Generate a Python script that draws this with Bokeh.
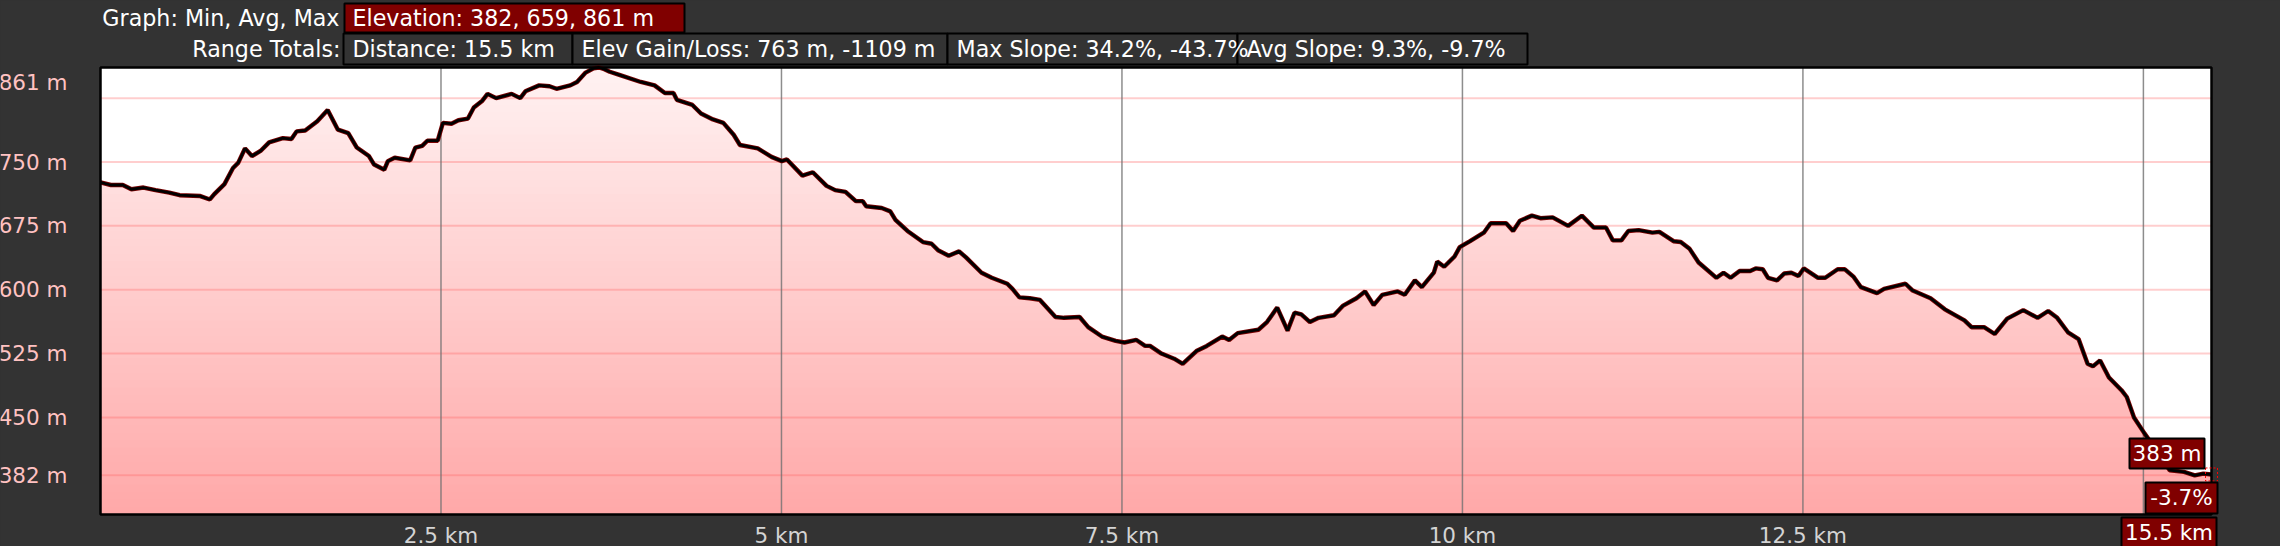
import numpy as np
from bokeh.plotting import figure
from bokeh.models import Range1d, GlobalInlineStyleSheet
from bokeh.core.properties import value
from bokeh.embed import file_html
from bokeh.resources import INLINE

# ---------------- data ----------------
dist_km = [0.000, 0.076, 0.164, 0.227, 0.316, 0.404, 0.505, 0.581, 0.733, 0.803,
           0.834, 0.910, 0.973, 1.011, 1.061, 1.112, 1.175, 1.238, 1.339, 1.402,
           1.440, 1.503, 1.592, 1.668, 1.743, 1.819, 1.882, 1.971, 2.009, 2.084,
           2.110, 2.160, 2.274, 2.312, 2.362, 2.400, 2.476, 2.514, 2.577, 2.628,
           2.698, 2.741, 2.804, 2.842, 2.905, 3.019, 3.082, 3.120, 3.221, 3.297,
           3.348, 3.449, 3.499, 3.562, 3.620, 3.660, 3.700, 3.739, 3.815, 3.967,
           4.068, 4.144, 4.207, 4.232, 4.346, 4.409, 4.497, 4.573, 4.649, 4.695,
           4.826, 4.927, 5.003, 5.040, 5.154, 5.230, 5.331, 5.394, 5.470, 5.546,
           5.597, 5.622, 5.736, 5.799, 5.837, 5.925, 6.039, 6.102, 6.153, 6.228,
           6.304, 6.355, 6.469, 6.544, 6.658, 6.696, 6.747, 6.823, 6.898, 7.012,
           7.075, 7.189, 7.252, 7.353, 7.454, 7.518, 7.606, 7.670, 7.706, 7.790,
           7.883, 7.946, 8.047, 8.123, 8.236, 8.287, 8.350, 8.502, 8.565, 8.640,
           8.716, 8.767, 8.817, 8.880, 8.944, 9.057, 9.121, 9.222, 9.285, 9.348,
           9.411, 9.525, 9.576, 9.651, 9.702, 9.790, 9.815, 9.866, 9.942, 9.980,
           10.056, 10.157, 10.207, 10.321, 10.372, 10.422, 10.510, 10.573, 10.662, 10.776,
           10.877, 10.965, 11.054, 11.104, 11.167, 11.218, 11.294, 11.395, 11.446, 11.550,
           11.603, 11.668, 11.734, 11.865, 11.917, 11.969, 12.035, 12.113, 12.153, 12.205,
           12.244, 12.310, 12.362, 12.415, 12.467, 12.506, 12.611, 12.664, 12.755, 12.808,
           12.873, 12.926, 13.044, 13.096, 13.253, 13.306, 13.437, 13.542, 13.686, 13.738,
           13.830, 13.908, 14.000, 14.118, 14.223, 14.301, 14.367, 14.446, 14.524, 14.590,
           14.629, 14.682, 14.747, 14.839, 14.878, 14.931, 15.009, 15.114, 15.193, 15.298,
           15.377, 15.440, 15.500]
elev_m = [726, 723, 723, 718, 720, 717, 714, 711, 710, 706,
          712, 724, 743, 749, 766, 757, 763, 773, 778, 777,
          786, 787, 798, 811, 788, 784, 767, 757, 747, 741,
          751, 755, 752, 767, 769, 775, 775, 796, 795, 799,
          801, 814, 822, 830, 825, 830, 825, 833, 840, 839,
          836, 840, 844, 855, 860, 861, 859, 856, 852, 844,
          840, 831, 831, 823, 817, 807, 800, 796, 782, 770,
          766, 756, 751, 753, 734, 738, 722, 717, 715, 704,
          704, 698, 696, 692, 682, 669, 656, 654, 646, 640,
          645, 638, 620, 614, 607, 601, 591, 590, 588, 568,
          567, 568, 556, 545, 540, 538, 541, 534, 534, 525,
          519, 513, 528, 534, 545, 541, 549, 553, 562, 579,
          552, 573, 571, 562, 567, 570, 581, 590, 598, 582,
          594, 598, 594, 611, 603, 620, 633, 627, 639, 650,
          657, 667, 678, 678, 669, 681, 687, 684, 685, 675,
          687, 673, 673, 658, 658, 669, 670, 667, 668, 657,
          656, 648, 632, 614, 620, 614, 622, 622, 625, 624,
          614, 611, 619, 620, 616, 625, 614, 614, 624, 624,
          615, 603, 596, 601, 607, 599, 590, 577, 564, 556,
          556, 548, 566, 576, 567, 575, 567, 550, 542, 513,
          510, 517, 497, 482, 474, 450, 431, 407, 388, 386,
          382, 384, 383]

y_tick_values = [382, 450, 525, 600, 675, 750, 861]
y_tick_labels = [f"{v} m" for v in y_tick_values]
y_grid_values = [382, 450, 525, 600, 675, 750, 825]
x_tick_values = [2.5, 5, 7.5, 10, 12.5]
x_tick_labels = ["2.5 km", "5 km", "7.5 km", "10 km", "12.5 km"]
x_grid_values = [2.5, 5, 7.5, 10, 12.5, 15]

elev_stats = (382, 659, 861)
total_distance_km = 15.5
elev_gain_loss = (763, -1109)
max_slope = (34.2, -43.7)
avg_slope = (9.3, -9.7)
cursor_dist = 15.5
cursor_elev = 383
cursor_slope = -3.7

# ---------------- layout ----------------
X0, X1 = 0.0, 15.5
Y0, Y1 = 336.0, 861.0
W, H = 2280, 546
FL, FR, FT, FB = 100, 2211, 67, 514
ppk = (FR - FL) / (X1 - X0)
ppm = (FB - FT) / (Y1 - Y0)

BG = "#333333"
DARKRED = "#800000"
FONT = value("DejaVu Sans")
HDR_SIZE = "22.2px"

p = figure(width=W, height=H, x_range=Range1d(0, W), y_range=Range1d(H, 0),
           min_border=0, toolbar_location=None, output_backend="svg",
           x_axis_location=None, y_axis_location=None, title=None)
p.grid.visible = False
p.outline_line_color = None
p.background_fill_color = BG
p.border_fill_color = BG
p.stylesheets = [GlobalInlineStyleSheet(
    css="html,body{margin:0;padding:0;background:#333333;overflow:hidden}")]

p.extra_x_ranges = {"km": Range1d(X0 - FL / ppk, X1 + (W - FR) / ppk)}
p.extra_y_ranges = {"elev": Range1d(Y0 - (H - FB) / ppm, Y1 + FT / ppm)}
D = dict(x_range_name="km", y_range_name="elev")

x = np.array(dist_km, dtype=float)
e = np.array(elev_m, dtype=float)

# plot area
p.quad(left=[X0], right=[X1], bottom=[Y0], top=[Y1], fill_color="white",
       line_color=None, **D)

# gradient fill under the profile
N = 60
edges = np.linspace(Y0, Y1, N + 1)
top_c, bot_c = 242, 168
for j in range(N - 1, -1, -1):
    t = (edges[j] + edges[j + 1]) / 2
    frac = (t - Y0) / (Y1 - Y0)
    g = int(round(bot_c + frac * (top_c - bot_c)))
    col = "#%02x%02x%02x" % (255, g, g)
    p.varea(x=x, y1=np.full_like(x, Y0), y2=np.minimum(e, edges[j + 1]),
            fill_color=col, **D)

# grid lines
p.segment(x0=[X0] * len(y_grid_values), x1=[X1] * len(y_grid_values),
          y0=y_grid_values, y1=y_grid_values, line_color="#ff5c5c",
          line_alpha=0.3, line_width=2, **D)
p.segment(x0=x_grid_values, x1=x_grid_values, y0=[Y0] * len(x_grid_values),
          y1=[Y1] * len(x_grid_values), line_color="#707070", line_alpha=0.8,
          line_width=1.5, **D)

# profile line
p.line(x, e, line_color="#7a0000", line_width=4.4, **D)
p.line(x, e, line_color="black", line_width=2.8, **D)

# frame
p.quad(left=[X0], right=[X1], bottom=[Y0], top=[Y1], fill_color=None,
       line_color="black", line_width=2.5, **D)

# y tick labels
label_y = [min(v, Y1 - 15 / ppm) for v in y_tick_values]
p.text(x=[FL - 33] * len(label_y), y=label_y, text=y_tick_labels,
       y_range_name="elev", text_font=FONT, text_font_size="21.5px",
       text_color="#ffc2c2", text_align="right", text_baseline="middle")

# x tick labels
p.text(x=x_tick_values, y=[FB + 20.5] * len(x_tick_values), text=x_tick_labels,
       x_range_name="km", text_font=FONT, text_font_size="21.5px",
       text_color="#d4d4d4", text_align="center", text_baseline="middle")

# header
p.text(x=[339, 340], y=[17.5, 48.5], text=["Graph: Min, Avg, Max", "Range Totals:"],
       text_font=FONT, text_font_size=HDR_SIZE, text_color="white",
       text_align="right", text_baseline="middle")
p.quad(left=[344], right=[684], top=[3], bottom=[32], fill_color=DARKRED,
       line_color="black", line_width=2)
box_l = [343, 572, 947, 1237]
box_r = [572, 947, 1237, 1527]
p.quad(left=box_l, right=box_r, top=[33] * 4, bottom=[64] * 4, fill_color=BG,
       line_color="black", line_width=2)
hdr_texts = [
    f"Elevation: {elev_stats[0]}, {elev_stats[1]}, {elev_stats[2]} m",
    f"Distance: {total_distance_km} km",
    f"Elev Gain/Loss: {elev_gain_loss[0]} m, {elev_gain_loss[1]} m",
    f"Max Slope: {max_slope[0]}%, {max_slope[1]}%",
    f"Avg Slope: {avg_slope[0]}%, {avg_slope[1]}%",
]
p.text(x=[352] + [b + 9 for b in box_l], y=[17.5] + [48.5] * 4, text=hdr_texts,
       text_font=FONT, text_font_size=HDR_SIZE, text_color="white",
       text_align="left", text_baseline="middle")

# cursor read-outs at the end of the track
ex = FL + (cursor_dist - X0) * ppk
ey = FT + (Y1 - cursor_elev) * ppm
p.rect(x=[cursor_dist], y=[cursor_elev], width=12, height=13, width_units="screen",
       height_units="screen", fill_color=None, line_color="red", line_width=1,
       line_dash="2 2", **D)
rb_l = [ex - 82, ex - 66, ex - 90]
rb_r = [ex - 7, ex + 6, ex + 5]
rb_t = [ey - 36, ey + 8, FB + 3]
rb_b = [ey - 6, ey + 39, H + 2]
p.quad(left=rb_l, right=rb_r, top=rb_t, bottom=rb_b, fill_color=DARKRED,
       line_color="black", line_width=2)
p.text(x=[(a + b) / 2 for a, b in zip(rb_l, rb_r)],
       y=[(ey - 21), (ey + 23.5), (FB + 3 + H) / 2],
       text=[f"{cursor_elev} m", f"{cursor_slope}%", f"{cursor_dist} km"],
       text_font=FONT, text_font_size="21.5px", text_color="white",
       text_align="center", text_baseline="middle")

open("out.html", "w").write(file_html(p, INLINE))
